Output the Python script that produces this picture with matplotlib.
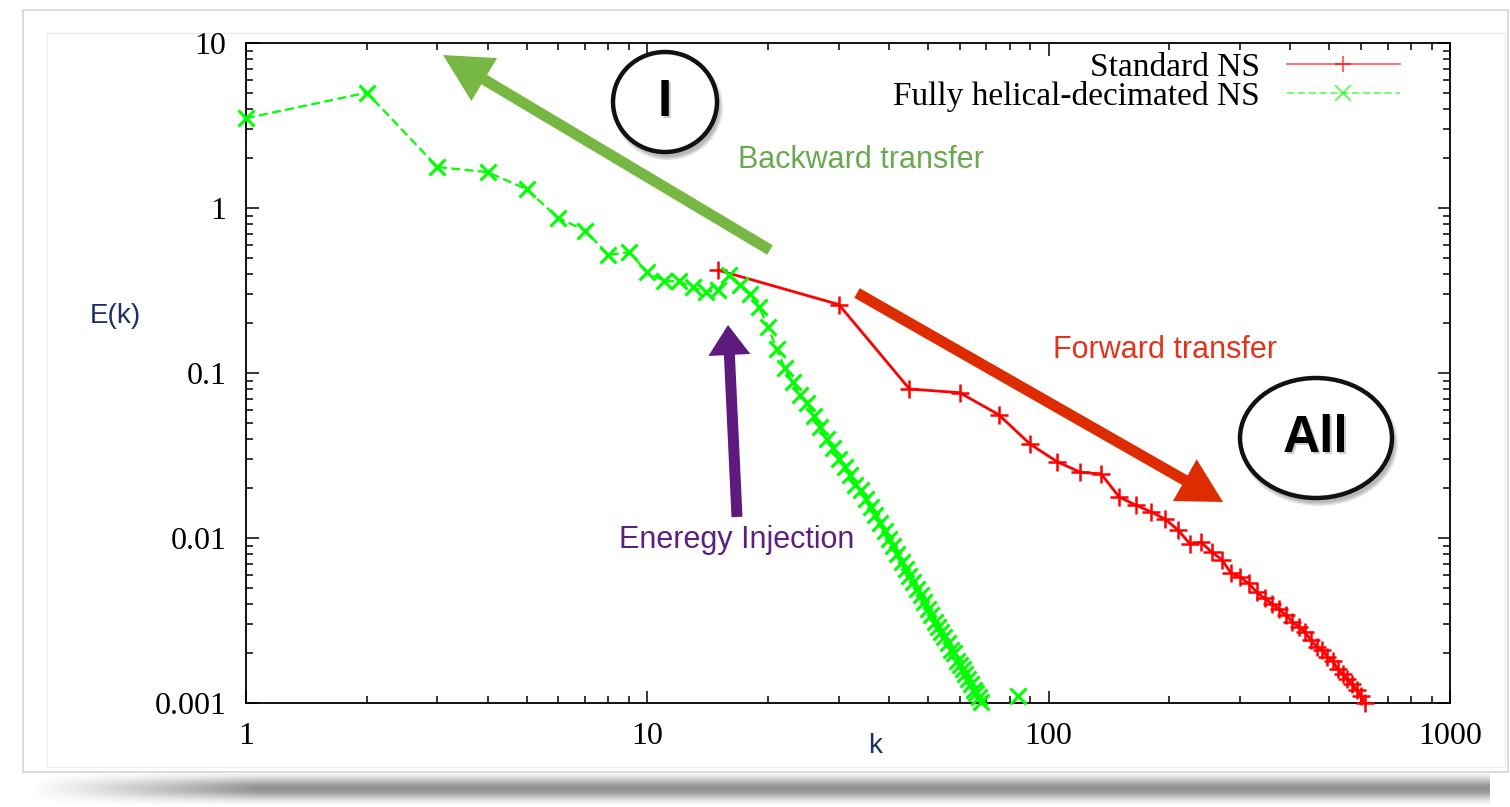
import numpy as np
import matplotlib
matplotlib.use('Agg')
import matplotlib.pyplot as plt
from matplotlib.patches import Ellipse, Rectangle, FancyArrow
from matplotlib.transforms import IdentityTransform
from matplotlib.ticker import FixedLocator, NullFormatter

# Fully helical-decimated NS (integer shells, gap where the curve leaves the axes)
k_hd = [1, 2, 3, 4, 5, 6, 7, 8, 9, 10, 11, 12, 13, 14, 15, 16, 17, 18, 19, 20,
        21, 22, 23, 24, 25, 26, 27, 28, 29, 30, 31, 32, 33, 34, 35, 36, 37, 38,
        39, 40, 41, 42, 43, 44, 45, 46, 47, 48, 49, 50, 51, 52, 53, 54, 55, 56,
        57, 58, 59, 60, 61, 62, 63, 64, 65, 66, 67, 68, 75, 84]
E_hd = [3.5, 5.0, 1.77, 1.65, 1.30, 0.87, 0.73, 0.52, 0.54, 0.41, 0.36, 0.36,
        0.33, 0.31, 0.32, 0.39, 0.34, 0.30, 0.25, 0.19, 0.14, 0.107, 0.088,
        0.074, 0.066, 0.055, 0.047, 0.040, 0.035, 0.030, 0.027, 0.024, 0.021,
        0.0195, 0.0172, 0.0155, 0.0138, 0.0123, 0.0110, 0.0098, 0.0089, 0.0080,
        0.0072, 0.0065, 0.0059, 0.0054, 0.0049, 0.0045, 0.0041, 0.0037, 0.0034,
        0.0031, 0.0029, 0.0027, 0.0025, 0.0023, 0.0021, 0.0020, 0.0018, 0.0017,
        0.0016, 0.0015, 0.0014, 0.0013, 0.0012, 0.00115, 0.00108, 0.00101,
        np.nan, 0.0011]

# Standard NS (shells of width 15)
k_ns = [15, 30, 45, 60, 75, 90, 105, 120, 135, 150, 165, 180, 195, 210, 225,
        240, 255, 270, 285, 300, 315, 330, 345, 360, 375, 390, 405, 420, 435,
        450, 465, 480, 495, 510, 525, 540, 555, 570, 585, 600, 615]
E_ns = [0.42, 0.26, 0.08, 0.076, 0.056, 0.037, 0.029, 0.025, 0.0245, 0.0177,
        0.0158, 0.0144, 0.013, 0.0112, 0.0092, 0.0094, 0.0082, 0.0074, 0.0061,
        0.0058, 0.0053, 0.0047, 0.0043, 0.0040, 0.0037, 0.0034, 0.0031, 0.0029,
        0.0027, 0.0024, 0.0022, 0.0021, 0.0019, 0.0018, 0.0016, 0.0015, 0.0014,
        0.0013, 0.0012, 0.0011, 0.001]

x_ticks = [1, 10, 100, 1000]
x_labels = ['1', '10', '100', '1000']
y_ticks = [0.001, 0.01, 0.1, 1, 10]
y_labels = ['0.001', '0.01', '0.1', '1', '10']

W, H = 1510, 807
def fx(x):
    return x / W
def fy(y):
    return 1 - y / H
def py(y):
    return H - y

fig = plt.figure(figsize=(15.1, 8.07), dpi=100)
fig.patch.set_facecolor('white')

# page card + shadow
shadow = fig.add_axes([0, 0, 1, fy(772)], zorder=-3)
shadow.axis('off')
rows = np.array([0.97, 0.93, 0.88, 0.82, 0.75, 0.68, 0.62, 0.58, 0.57, 0.58,
                 0.62, 0.68, 0.75, 0.82, 0.88, 0.93, 0.97, 1.0])
cols = np.zeros(W)
cols[30:260] = np.linspace(0.0, 1.0, 230)
cols[260:1490] = 1.0
img = 1 - np.outer(1 - rows, cols)
shadow.imshow(img, cmap='gray', vmin=0, vmax=1, aspect='auto',
              extent=[0, W, 0, len(rows)])
fig.add_artist(Rectangle((23, py(772)), 1485, 762, transform=IdentityTransform(),
                         facecolor='white', edgecolor='#d4d4d4', lw=1.2, zorder=-2))
fig.add_artist(Rectangle((47, py(767)), 1458, 734, transform=IdentityTransform(),
                         facecolor='none', edgecolor='#ededed', lw=1, zorder=-2))

ax = fig.add_axes([fx(246), fy(703), fx(1450) - fx(246), fy(43) - fy(703)])
ax.set_xscale('log')
ax.set_yscale('log')
ax.patch.set_alpha(0)

ax.plot(k_ns, E_ns, color='#ff0000', lw=2.0, marker='+', ms=13, mew=1.8,
        label='Standard NS', clip_on=False, zorder=3)
ax.plot(k_hd, E_hd, color='#00ff00', lw=1.6, ls='--', dashes=(4, 2),
        marker='x', ms=11, mew=2.2, label='Fully helical-decimated NS',
        clip_on=False, zorder=3)

ax.set_xlim(1, 1000)
ax.set_ylim(0.001, 10)
ax.xaxis.set_major_locator(FixedLocator(x_ticks))
ax.set_xticklabels(x_labels)
ax.yaxis.set_major_locator(FixedLocator(y_ticks))
ax.set_yticklabels(y_labels)
ax.xaxis.set_minor_formatter(NullFormatter())
ax.yaxis.set_minor_formatter(NullFormatter())
ax.tick_params(which='both', direction='in', top=True, right=True, width=1.1,
               colors='black')
ax.tick_params(which='major', length=9, labelsize=23, pad=14)
ax.tick_params(which='minor', length=5)
for lab in ax.get_xticklabels() + ax.get_yticklabels():
    lab.set_family('Liberation Serif')
for sp in ax.spines.values():
    sp.set_linewidth(1.3)

leg = ax.legend(loc='upper right', bbox_to_anchor=(fx(1400), fy(52)),
                bbox_transform=fig.transFigure, frameon=False, markerfirst=False,
                prop={'family': 'Liberation Serif', 'size': 24},
                handlelength=3.4, handletextpad=0.8, labelspacing=-0.05,
                borderpad=0, borderaxespad=0)
for ln in leg.get_lines():
    ln.set_linewidth(1.3)
    ln.set_alpha(0.6)
    ln.set_markersize(11)
    ln.set_markeredgewidth(1.5)

# arrows
fig.add_artist(FancyArrow(770, py(250), 443 - 770, 250 - 55, width=11,
                          head_width=50, head_length=48, length_includes_head=True,
                          transform=IdentityTransform(), color='#76b843', lw=0))
fig.add_artist(FancyArrow(857, py(293), 1223 - 857, 293 - 502, width=11,
                          head_width=48, head_length=44, length_includes_head=True,
                          transform=IdentityTransform(), color='#dd2c00', lw=0))
fig.add_artist(FancyArrow(737, py(517), 728 - 737, 517 - 325, width=11,
                          head_width=42, head_length=30, length_includes_head=True,
                          transform=IdentityTransform(), color='#5e1a7d', lw=0))

# circled labels
for (cx, cy, rx, ry, txt) in [(665, 102, 52, 50, 'I'), (1316, 438, 76, 60, 'All')]:
    for i, a in enumerate([0.10, 0.10, 0.10]):
        fig.add_artist(Ellipse((cx + 3, py(cy + 5)), 2 * rx + 6 - 3 * i, 2 * ry + 6 - 3 * i,
                               transform=IdentityTransform(), facecolor='#000000',
                               edgecolor='none', alpha=a))
    fig.add_artist(Ellipse((cx, py(cy)), 2 * rx, 2 * ry, transform=IdentityTransform(),
                           facecolor='white', edgecolor='#111111', lw=3.2))
    fig.text(fx(cx + 2), fy(cy + 3), txt, fontsize=37, fontweight='bold',
             family='Liberation Sans', color='#999999', alpha=0.5,
             ha='center', va='center')
    fig.text(fx(cx), fy(cy), txt, fontsize=37, fontweight='bold',
             family='Liberation Sans', color='black', ha='center', va='center')

fig.text(fx(861), fy(160), 'Backward transfer', color='#6aa84f', fontsize=22,
         family='Liberation Sans', ha='center', va='center')
fig.text(fx(1165), fy(350), 'Forward transfer', color='#e0341c', fontsize=22,
         family='Liberation Sans', ha='center', va='center')
fig.text(fx(737), fy(540), 'Eneregy Injection', color='#5c2080', fontsize=22,
         family='Liberation Sans', ha='center', va='center')
fig.text(fx(115), fy(316), 'E(k)', color='#1c3163', fontsize=20,
         family='Liberation Sans', ha='center', va='center')
fig.text(fx(875), fy(746), 'k', color='#1c3163', fontsize=20,
         family='Liberation Sans', ha='center', va='center')

fig.savefig('out.png', dpi=100)
